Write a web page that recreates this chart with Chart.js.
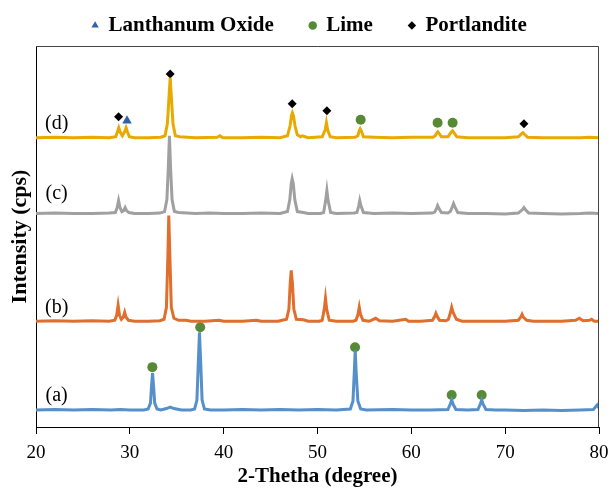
<!DOCTYPE html>
<html>
<head>
<meta charset="utf-8">
<script src="https://cdn.jsdelivr.net/npm/chart.js@4.4.1/dist/chart.umd.min.js"></script>
<style>
html, body { margin: 0; padding: 0; background: #fff; }
#wrap { width: 612px; height: 493px; }
</style>
</head>
<body>
<div id="wrap"><canvas id="xrd" width="612" height="493"></canvas></div>
<script>
// XRD patterns, 2-theta (degree) vs intensity; curves already stacked as in the figure
const thetaA = [20, 22, 24, 26, 28, 29, 30, 31.5, 31.95, 32.2, 32.32, 32.42, 32.52, 32.65, 32.9, 33.3, 33.9, 34.3, 34.7, 35.5, 36.5, 36.9, 37.15, 37.3, 37.42, 37.55, 37.7, 37.95, 38.6, 40, 42, 44, 46, 48, 50, 52, 53.5, 53.78, 53.92, 54.02, 54.12, 54.3, 54.6, 55.2, 58, 60, 62, 63.9, 64.15, 64.3, 64.45, 64.75, 66, 67.1, 67.35, 67.5, 67.65, 67.95, 69, 70, 72, 74, 76, 78, 79.4, 79.8, 80];
const intA = [17, 17.5, 17, 17.5, 17, 17.5, 17, 17, 18, 24, 42, 54, 42, 24, 18, 17, 18.5, 20, 18.5, 17, 17, 18, 27, 65, 95, 65, 27, 18, 17, 17, 17.5, 17, 17.5, 17, 17.5, 17, 18, 26, 55, 77, 55, 26, 18, 17, 17.5, 17, 17, 17.5, 23, 27, 23, 17.5, 17, 17.5, 23, 27, 23, 17.5, 17, 17, 16.5, 17, 16.5, 17, 17.5, 22, 19];

const thetaB = [20, 22, 24, 26, 27.8, 28.4, 28.6, 28.75, 28.9, 29.1, 29.3, 29.45, 29.6, 29.85, 30.5, 32, 33.2, 33.65, 33.9, 34.05, 34.15, 34.27, 34.42, 34.7, 35.2, 36, 36.5, 38, 39.5, 40, 42, 43.5, 44, 45.8, 46.7, 46.95, 47.1, 47.2, 47.32, 47.48, 47.75, 48.5, 49, 50.2, 50.5, 50.72, 50.85, 50.98, 51.25, 52, 53.8, 54.1, 54.32, 54.45, 54.58, 54.85, 55.5, 56.2, 56.6, 58, 59.4, 59.7, 61, 62.25, 62.5, 62.62, 62.75, 63.0, 63.7, 63.95, 64.18, 64.3, 64.45, 64.8, 65.4, 68, 70, 71.4, 71.65, 71.8, 71.95, 72.3, 73, 76, 77.5, 77.9, 78.3, 79.0, 79.2, 79.5, 80];
const intB = [106, 106.5, 106, 106.5, 106, 107, 112, 122, 112, 108, 110, 115, 110, 107, 106, 106, 106.5, 108, 120, 170, 212, 170, 120, 109, 107, 107, 106, 106, 107, 106, 106, 107, 106, 106, 108, 118, 145, 157, 145, 118, 108, 107.5, 106, 106, 107, 118, 129, 118, 107, 106, 106, 107, 113, 120, 113, 107, 106, 109, 106.5, 106, 108, 106, 106, 107, 111, 114, 111, 107, 106.5, 108, 115, 120, 115, 108, 106, 106, 106, 107, 110, 113, 110, 107, 106, 106, 107, 109, 106.5, 107, 108, 106, 106];

const thetaC = [20, 22, 24, 26, 27.8, 28.45, 28.65, 28.8, 28.95, 29.15, 29.35, 29.5, 29.65, 29.9, 30.5, 32, 33.2, 33.7, 33.95, 34.1, 34.22, 34.34, 34.5, 34.75, 35.2, 37, 38.5, 40, 42, 44, 46, 46.8, 47.05, 47.2, 47.3, 47.42, 47.58, 47.85, 48.5, 49, 50.3, 50.65, 50.87, 51.0, 51.13, 51.4, 52, 53.9, 54.2, 54.4, 54.5, 54.62, 54.9, 56, 58, 60, 62.2, 62.5, 62.7, 62.8, 62.92, 63.2, 63.9, 64.15, 64.38, 64.5, 64.63, 64.95, 66, 68, 70, 71.4, 71.85, 72.0, 72.15, 72.5, 74, 76, 78, 79, 80];
const intC = [214, 214.5, 214, 214, 214.5, 215, 220, 227, 220, 216, 217, 220, 217, 215, 214, 214, 214.5, 216, 228, 260, 292, 260, 228, 216, 215, 214, 214.5, 214, 214, 214.5, 214, 216, 228, 244, 249, 244, 228, 216, 215, 214, 214, 215, 227, 237, 227, 215, 214, 214.5, 215, 222, 227, 222, 215, 214, 214.5, 214, 214.5, 215.5, 219.5, 222, 219.5, 215, 214.5, 216, 221, 224, 221, 215, 214, 214, 213.5, 214.5, 218, 220, 218, 214.5, 214, 213.5, 214, 214.5, 214];

const thetaD = [20, 22, 24, 26, 27.8, 28.5, 28.68, 28.82, 28.96, 29.2, 29.45, 29.6, 29.74, 29.95, 30.5, 32, 33.3, 33.75, 34.0, 34.17, 34.3, 34.43, 34.6, 34.85, 35.3, 37, 39.3, 39.6, 39.9, 42, 44, 46, 46.8, 47.08, 47.22, 47.32, 47.44, 47.6, 47.85, 48.2, 48.4, 49, 50.5, 50.82, 50.95, 51.08, 51.35, 52, 54.0, 54.3, 54.45, 54.55, 54.67, 54.9, 56, 58, 60, 62.3, 62.55, 62.72, 62.82, 62.95, 63.2, 63.9, 64.2, 64.4, 64.55, 64.85, 66, 68, 70, 71.4, 71.75, 71.9, 72.05, 72.4, 74, 76, 78, 79, 80];
const intD = [290, 290.5, 290, 290.5, 290, 291, 296, 300, 296, 292, 296, 300, 296, 291, 290, 290, 290.5, 292, 304, 330, 350, 330, 304, 292, 291, 290, 290.5, 292, 290, 290, 290.5, 290, 292, 302, 312, 315, 312, 302, 293, 291, 292, 290, 291, 298, 305, 298, 291, 290, 290.5, 292, 297, 299, 297, 291, 290.5, 290, 290.5, 290.5, 292, 295, 296, 294.5, 291, 291, 295, 297, 295, 291, 290, 290, 290, 291, 294, 295, 293.5, 290.5, 290, 290, 290, 290.5, 290];

// phase markers above the peaks
const la2o3Theta = [29.7];
const la2o3Int = [307];
const limeTheta = [32.4, 37.5, 54.0, 64.3, 67.5, 54.6, 62.8, 64.4];
const limeInt = [60, 100, 80, 32, 32, 308, 305, 305];
const portlTheta = [28.8, 34.3, 47.3, 51.0, 72.0];
const portlInt = [311, 354, 324, 317, 304];

const sampleNames = ['(a)', '(b)', '(c)', '(d)'];
const xTicks = [20, 30, 40, 50, 60, 70, 80];

const serif = "'Liberation Serif', 'Times New Roman', serif";

function pts(xs, ys) {
    return xs.map((x, i) => ({ x: x, y: ys[i] }));
}

function linha(xs, ys, cor) {
    return {
        data: pts(xs, ys),
        showLine: true,
        borderColor: cor,
        borderWidth: 3,
        pointRadius: 0,
        tension: 0,
        fill: false
    };
}

function marcador(label, xs, ys, estilo, cor, raio) {
    return {
        label: label,
        data: pts(xs, ys),
        showLine: false,
        pointStyle: estilo,
        pointRadius: raio,
        backgroundColor: cor,
        borderColor: cor,
        borderWidth: 0
    };
}

// frame on top/right + sample names
const molduraPlugin = {
    id: 'moldura',
    afterLayout(chart) {
        // nudge the legend block a bit to the right, like the original
        chart.legend.left = 20;
    },
    afterDatasetsDraw(chart) {
        const { ctx, chartArea, scales } = chart;
        ctx.save();
        ctx.strokeStyle = '#444';
        ctx.lineWidth = 1;
        ctx.beginPath();
        ctx.moveTo(chartArea.left, chartArea.top + 0.5);
        ctx.lineTo(chartArea.right - 0.5, chartArea.top + 0.5);
        ctx.lineTo(chartArea.right - 0.5, chartArea.bottom);
        ctx.stroke();

        const posY = [31, 120, 234, 304];
        ctx.fillStyle = '#000';
        ctx.font = '20px ' + serif;
        ctx.textAlign = 'center';
        ctx.textBaseline = 'middle';
        sampleNames.forEach((nome, i) => {
            ctx.fillText(nome, scales.x.getPixelForValue(22.2), scales.y.getPixelForValue(posY[i]));
        });
        ctx.restore();
    }
};

const ctx = document.getElementById('xrd').getContext('2d');

var chart = new Chart(ctx, {
    type: 'scatter',
    data: {
        datasets: [
            linha(thetaA, intA, '#5590cb'),
            linha(thetaB, intB, '#e06e2c'),
            linha(thetaC, intC, '#a0a0a0'),
            linha(thetaD, intD, '#e8aa00'),
            marcador('Lanthanum Oxide', la2o3Theta, la2o3Int, 'triangle', '#3461a9', 5.5),
            marcador('Lime', limeTheta, limeInt, 'circle', '#578a35', 5),
            marcador('Portlandite', portlTheta, portlInt, 'rectRot', '#000', 4.5)
        ]
    },
    options: {
        responsive: false,
        animation: false,
        layout: { padding: { top: -21, left: 0, right: 13, bottom: 0 } },
        plugins: {
            tooltip: { enabled: false },
            legend: {
                position: 'top',
                labels: {
                    usePointStyle: true,
                    boxWidth: 6,
                    boxHeight: 6,
                    padding: 36,
                    color: '#000',
                    font: { family: serif, size: 21, weight: 'bold' },
                    filter: item => item.text !== undefined
                }
            }
        },
        scales: {
            x: {
                type: 'linear',
                min: 20,
                max: 80,
                afterBuildTicks: scale => { scale.ticks = xTicks.map(v => ({ value: v })); },
                afterFit: scale => {
                    scale.height = 66;
                    scale.paddingLeft = 0;
                    scale.paddingRight = 0;
                },
                ticks: { color: '#000', font: { family: serif, size: 19 }, padding: 8, maxRotation: 0 },
                grid: { drawOnChartArea: false, drawTicks: true, tickLength: 7, color: '#000' },
                border: { color: '#000', width: 1 },
                title: {
                    display: true,
                    text: '2-Thetha (degree)',
                    color: '#000',
                    font: { family: serif, size: 21, weight: 'bold' },
                    padding: { top: 0, bottom: 4 }
                }
            },
            y: {
                type: 'linear',
                min: 0,
                max: 382,
                afterFit: scale => { scale.width = 36; },
                ticks: { display: false },
                grid: { display: false },
                border: { color: '#000', width: 1 },
                title: {
                    display: true,
                    text: 'Intensity (cps)',
                    color: '#000',
                    font: { family: serif, size: 22, weight: 'bold' },
                    padding: { top: 7, bottom: 0 }
                }
            }
        }
    },
    plugins: [molduraPlugin]
});
</script>
</body>
</html>
